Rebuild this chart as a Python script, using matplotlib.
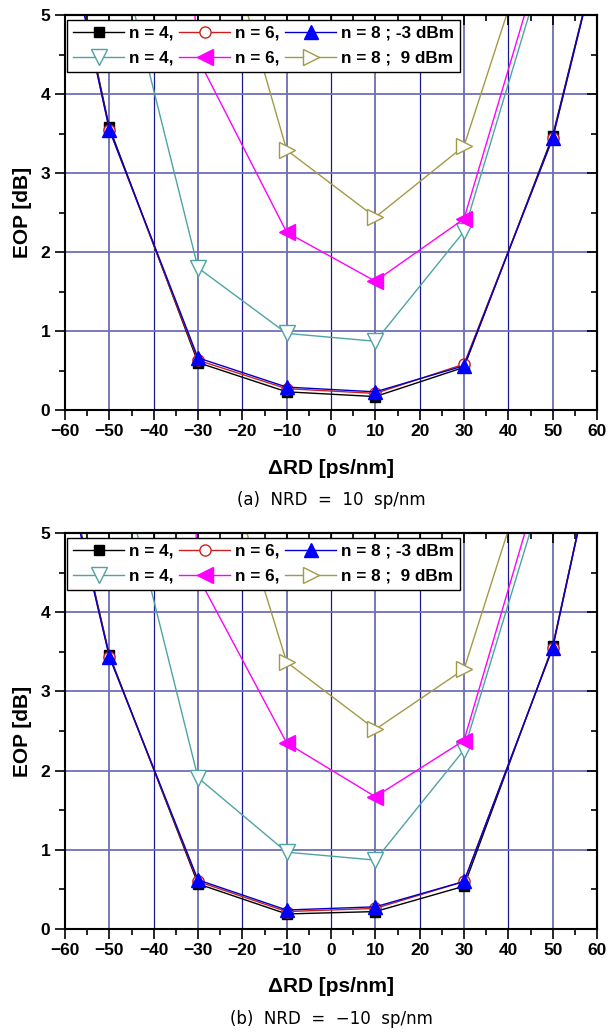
import numpy as np
import matplotlib
matplotlib.use("Agg")
import matplotlib.pyplot as plt
from matplotlib.ticker import MultipleLocator

plt.rcParams['font.family'] = ['Liberation Sans', 'DejaVu Sans']

# x positions (the outer points sit beyond the visible axes range)
x_m3 = [-70, -50, -30, -10, 10, 30, 50, 70]
x_9 = [-50, -30, -10, 10, 30, 50]

# panel (a): NRD = 10 sp/nm
a_n4_m3 = [8.8, 3.58, 0.60, 0.23, 0.17, 0.54, 3.47, 8.0]
a_n6_m3 = [8.8, 3.55, 0.63, 0.27, 0.21, 0.58, 3.44, 8.0]
a_n8_m3 = [8.7, 3.55, 0.66, 0.29, 0.23, 0.56, 3.44, 8.0]
a_n4_9 = [6.3, 1.80, 0.97, 0.87, 2.26, 6.0]
a_n6_9 = [20.0, 4.45, 2.25, 1.63, 2.42, 6.2]
a_n8_9 = [11.0, 7.2, 3.29, 2.44, 3.34, 6.8]

# panel (b): NRD = -10 sp/nm
b_n4_m3 = [8.3, 3.46, 0.57, 0.19, 0.22, 0.54, 3.57, 8.7]
b_n6_m3 = [8.3, 3.44, 0.60, 0.22, 0.26, 0.60, 3.55, 8.7]
b_n8_m3 = [8.2, 3.44, 0.62, 0.24, 0.28, 0.60, 3.55, 8.7]
b_n4_9 = [6.4, 1.91, 0.97, 0.87, 2.26, 5.95]
b_n6_9 = [30.0, 4.45, 2.35, 1.67, 2.38, 6.2]
b_n8_9 = [11.0, 7.0, 3.37, 2.52, 3.28, 6.8]

panels = [
    ("(a)  NRD  =  10  sp/nm", a_n4_m3, a_n6_m3, a_n8_m3, a_n4_9, a_n6_9, a_n8_9),
    ("(b)  NRD  =  \u221210  sp/nm", b_n4_m3, b_n6_m3, b_n8_m3, b_n4_9, b_n6_9, b_n8_9),
]

W, H = 608, 1035
fig = plt.figure(figsize=(W / 100, H / 100), dpi=100)

# axes boxes in pixels: left, top, right, bottom
boxes = [(65, 15, 597, 410), (65, 533, 597, 929)]

c_cyan = "#4fa3a3"
c_mag = "#ff00ff"
c_olive = "#a39a45"

for (caption, n4m3, n6m3, n8m3, n49, n69, n89), (l, t, r, b) in zip(panels, boxes):
    ax = fig.add_axes([l / W, 1 - b / H, (r - l) / W, (b - t) / H])

    # grid: light slate lines at odd tens and at y integers, dark navy at even tens
    for gx in [-50, -30, -10, 10, 30, 50]:
        ax.axvline(gx, color="#7878b8", lw=1.4, zorder=0)
    for gx in [-40, -20, 0, 20, 40]:
        ax.axvline(gx, color="#1a1a8c", lw=0.9, zorder=0)
    for gy in [1, 2, 3, 4]:
        ax.axhline(gy, color="#6f6fb8", lw=1.3, zorder=0)

    h1, = ax.plot(x_m3, n4m3, color="black", lw=1.0, marker="s", ms=7,
                  mfc="black", mec="black", label="n = 4,")
    h2, = ax.plot(x_m3, n6m3, color="#cc2020", lw=1.0, marker="o", ms=8,
                  mfc="white", mec="#cc2020", label="n = 6,")
    h3, = ax.plot(x_m3, n8m3, color="#0000cc", lw=1.0, marker="^", ms=10,
                  mfc="#0000ff", mec="#0000ff", label="n = 8 ; -3 dBm")
    h4, = ax.plot(x_9, n49, color=c_cyan, lw=1.0, marker="v", ms=11,
                  mfc="white", mec=c_cyan, label="n = 4,")
    h5, = ax.plot(x_9, n69, color=c_mag, lw=1.0, marker="<", ms=11,
                  mfc=c_mag, mec=c_mag, label="n = 6,")
    h6, = ax.plot(x_9, n89, color=c_olive, lw=1.0, marker=">", ms=11,
                  mfc="white", mec=c_olive, label="n = 8 ;  9 dBm")

    ax.set_xlim(-60, 60)
    ax.set_ylim(0, 5)
    ax.xaxis.set_major_locator(MultipleLocator(10))
    ax.xaxis.set_minor_locator(MultipleLocator(5))
    ax.yaxis.set_major_locator(MultipleLocator(1))
    ax.yaxis.set_minor_locator(MultipleLocator(0.5))
    ax.tick_params(which="both", direction="out", top=False, right=False,
                   width=1.2, colors="black")
    ax.tick_params(which="major", length=7, labelsize=12.5)
    ax.tick_params(which="minor", length=4)
    ax.tick_params(axis="x", pad=3)
    for lab in ax.get_xticklabels() + ax.get_yticklabels():
        lab.set_fontweight("bold")
    sec_x = ax.secondary_xaxis("top")
    sec_x.xaxis.set_major_locator(MultipleLocator(10))
    sec_x.xaxis.set_minor_locator(MultipleLocator(5))
    sec_x.tick_params(which="both", direction="in", labeltop=False, width=1.2)
    sec_x.tick_params(which="major", length=7)
    sec_x.tick_params(which="minor", length=4)
    sec_y = ax.secondary_yaxis("right")
    sec_y.yaxis.set_major_locator(MultipleLocator(1))
    sec_y.yaxis.set_minor_locator(MultipleLocator(0.5))
    sec_y.tick_params(which="both", direction="in", labelright=False, width=1.2)
    sec_y.tick_params(which="major", length=7)
    sec_y.tick_params(which="minor", length=4)
    for sp in ax.spines.values():
        sp.set_linewidth(1.5)
    sec_x.spines["top"].set_linewidth(1.5)
    sec_y.spines["right"].set_linewidth(1.5)

    ax.set_ylabel("EOP [dB]", fontsize=15, fontweight="bold", labelpad=6)

    leg = ax.legend([h1, h4, h2, h5, h3, h6],
                    [h.get_label() for h in [h1, h4, h2, h5, h3, h6]],
                    ncol=3, loc="upper left", bbox_to_anchor=(0.004, 0.988),
                    prop={"weight": "bold", "size": 12.3}, frameon=True,
                    fancybox=False, edgecolor="black", framealpha=1,
                    handlelength=3.0, handletextpad=0.3, columnspacing=0.3,
                    borderpad=0.35, labelspacing=0.6, borderaxespad=0)
    leg.get_frame().set_linewidth(1.0)
    leg.set_zorder(10)

    cx = (l + r) / 2 / W
    fig.text(cx, 1 - (b + 58) / H, "\u0394RD [ps/nm]", ha="center", va="center",
             fontsize=15, fontweight="bold")
    fig.text(cx, 1 - (b + 90) / H, caption, ha="center", va="center",
             fontsize=12, family=["DejaVu Sans"])

fig.savefig("out.png", dpi=100)
